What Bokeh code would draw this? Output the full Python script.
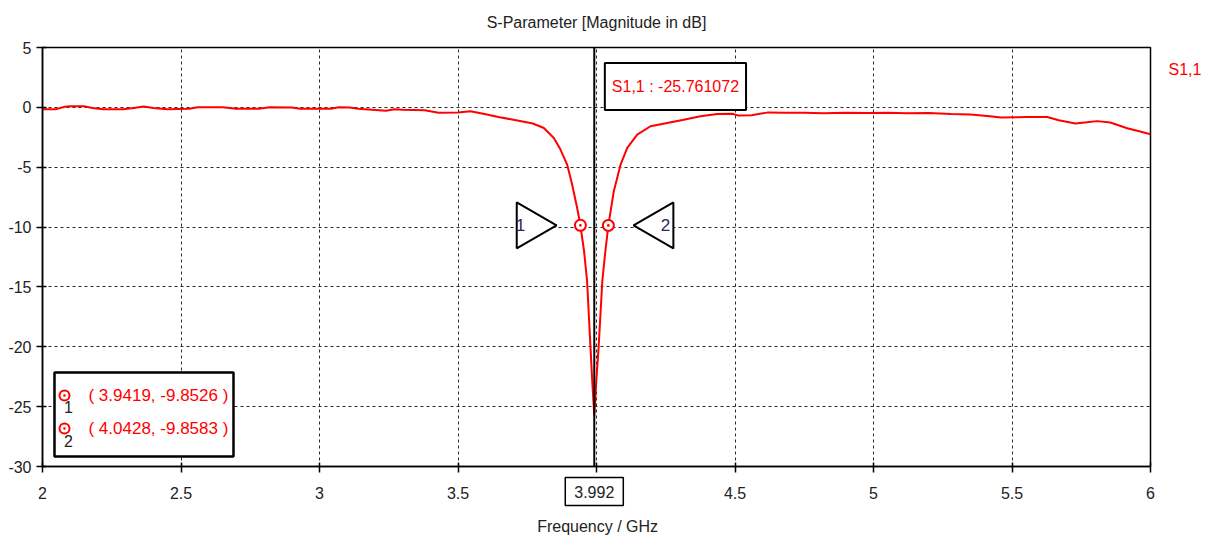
import math
from bokeh.plotting import figure
from bokeh.models import (Range1d, FixedTicker, Label, Span, BoxAnnotation, LinearAxis)
from bokeh.embed import file_html
from bokeh.resources import INLINE

# ---- data ----
freq = [2.00, 2.05, 2.08, 2.10, 2.15, 2.18, 2.22, 2.29, 2.33, 2.365, 2.40, 2.45,
        2.53, 2.56, 2.65, 2.70, 2.78, 2.82, 2.90, 2.93, 3.04, 3.07, 3.11, 3.14,
        3.19, 3.24, 3.27, 3.30, 3.38, 3.43, 3.50, 3.545, 3.60, 3.65, 3.71, 3.77,
        3.81, 3.846, 3.87, 3.894, 3.912, 3.930, 3.9419, 3.955, 3.966, 3.978, 3.984,
        3.992, 4.000, 4.008, 4.021, 4.032, 4.0428, 4.0625, 4.087, 4.111, 4.147,
        4.195, 4.255, 4.315, 4.375, 4.436, 4.49, 4.51, 4.56, 4.62, 4.68, 4.75,
        4.82, 4.90, 4.98, 5.05, 5.12, 5.20, 5.28, 5.35, 5.42, 5.46, 5.555, 5.627,
        5.669, 5.729, 5.77, 5.807, 5.855, 5.916, 5.952, 6.00]
s11_db = [-0.15, -0.15, 0.05, 0.10, 0.10, -0.05, -0.15, -0.15, -0.05, 0.08, -0.05, -0.15,
          -0.12, 0.00, 0.00, -0.12, -0.12, 0.00, -0.02, -0.12, -0.12, 0.00, -0.02, -0.12,
          -0.20, -0.28, -0.15, -0.20, -0.25, -0.45, -0.42, -0.33, -0.58, -0.82, -1.08, -1.35,
          -1.72, -2.56, -3.53, -4.78, -6.44, -8.39, -9.8526, -12.0, -14.5, -19.9, -22.6,
          -25.761072, -22.6, -19.9, -14.5, -12.0, -9.8583, -7.0, -4.78, -3.39, -2.28,
          -1.58, -1.30, -1.03, -0.75, -0.55, -0.53, -0.67, -0.65, -0.42, -0.45, -0.45,
          -0.50, -0.45, -0.48, -0.45, -0.50, -0.48, -0.55, -0.60, -0.75, -0.85, -0.80, -0.80,
          -1.07, -1.35, -1.25, -1.15, -1.27, -1.74, -1.96, -2.24]

marker_freq = [3.9419, 4.0428]
marker_db = [-9.8526, -9.8583]
marker_names = ["1", "2"]
min_freq = 3.992
min_db = -25.761072
series_name = "S1,1"
x_title = "Frequency / GHz"
chart_title = "S-Parameter [Magnitude in dB]"

x_ticks = [2, 2.5, 3, 3.5, 4, 4.5, 5, 5.5, 6]
x_tick_labels = ["2", "2.5", "3", "3.5", "", "4.5", "5", "5.5", "6"]
y_ticks = [5, 0, -5, -10, -15, -20, -25, -30]
y_tick_labels = ["5", "0", "-5", "-10", "-15", "-20", "-25", "-30"]

FONT = "Liberation Sans"
FS = "16px"
TXT = "#222222"

p = figure(width=1215, height=542, x_range=Range1d(2, 6), y_range=Range1d(-30, 5),
           output_backend="svg", toolbar_location=None,
           min_border_left=42, min_border_right=65, min_border_top=47, min_border_bottom=76)
p.background_fill_color = "white"
p.border_fill_color = "white"
p.outline_line_color = "black"
p.outline_line_width = 1.5

p.title.text = chart_title
p.title.align = "center"
p.title.text_font = FONT
p.title.text_font_size = FS
p.title.text_font_style = "normal"
p.title.text_color = TXT
p.title.standoff = 0

for ax, ticks, labels in ((p.xaxis[0], x_ticks, x_tick_labels), (p.yaxis[0], y_ticks, y_tick_labels)):
    ax.ticker = FixedTicker(ticks=ticks)
    ax.major_label_overrides = {float(t): l for t, l in zip(ticks, labels)}
    ax.major_label_text_font = FONT
    ax.major_label_text_font_size = FS
    ax.major_label_text_color = TXT
    ax.axis_line_color = "black"
    ax.axis_line_width = 1.5
    ax.major_tick_line_color = "black"
    ax.major_tick_line_width = 1.5
    ax.minor_tick_line_color = None
    ax.major_tick_in = 4
    ax.major_tick_out = 6
p.xaxis.major_label_standoff = 14
p.yaxis.major_label_standoff = 5

# series name at the right, outside the frame
name_axis = LinearAxis(ticker=FixedTicker(ticks=[3.16]), major_label_overrides={3.16: series_name},
                       axis_line_color=None, major_tick_line_color=None, minor_tick_line_color=None,
                       major_tick_in=0, major_tick_out=0, major_label_standoff=18,
                       major_label_text_font=FONT, major_label_text_font_size=FS,
                       major_label_text_color="#ff0000")
p.add_layout(name_axis, "right")

# x axis title (side-panel label, shifted below the plot)
p.add_layout(Label(x=4.004, y=-479, x_units="data", y_units="screen", text=x_title,
                   text_font=FONT, text_font_size=FS, text_color=TXT,
                   text_align="center", text_baseline="middle"), "above")

# x value box below the axis  (padding = (horizontal, vertical))
p.add_layout(Label(x=min_freq, y=38, x_units="data", y_units="screen",
                   text=f"{min_freq:.3f}", text_font=FONT,
                   text_font_size=FS, text_color=TXT, text_align="center",
                   text_baseline="middle", border_line_color="black", border_line_width=1.5,
                   background_fill_color="white", padding=(9, 8)), "below")

p.xgrid.ticker = FixedTicker(ticks=x_ticks)
p.ygrid.ticker = FixedTicker(ticks=y_ticks)
for g in (p.xgrid[0], p.ygrid[0]):
    g.grid_line_color = "#2a2a2a"
    g.grid_line_dash = "3 3"
    g.grid_line_width = 1

# curve
curve = p.line(freq, s11_db, line_color="#ff0000", line_width=2)

# vertical marker line at minimum
p.add_layout(Span(location=min_freq, dimension="height", line_color="black", line_width=2))

# marker pointers (triangles)
tri_x = [3.760, 4.2296]
p.scatter(x=tri_x, y=marker_db, marker="triangle", size=46,
          angle=[-math.pi / 2, math.pi / 2], fill_color="white",
          line_color="black", line_width=2)
num_x = [3.7256, 4.249]
for nx, ny, nm in zip(num_x, marker_db, marker_names):
    p.add_layout(Label(x=nx, y=ny, text=nm, text_font=FONT, text_font_size="17px",
                       text_color="#1f2a66", text_align="center", text_baseline="middle"))

# markers on the curve
p.scatter(x=marker_freq, y=marker_db, marker="circle_dot", size=11,
          fill_color="white", line_color="#ff0000", line_width=2)

# marker value box at top
p.add_layout(Label(x=4.285, y=1.74, text=f"{series_name} : {min_db:.6f}", text_font=FONT,
                   text_font_size=FS, text_color="#ff0000", text_align="center",
                   text_baseline="middle", border_line_color="black", border_line_width=2,
                   background_fill_color="white", padding=(7, 15)))

# marker table box (bottom left)
p.add_layout(BoxAnnotation(left=2.0433, right=2.6895, bottom=-29.165, top=-22.15,
                           fill_color="white", fill_alpha=1.0,
                           line_color="black", line_alpha=1.0, line_width=2.5))
row_y = [-24.07, -26.83]
tbl = p.scatter(x=[2.0794, 2.0794], y=row_y, marker="circle_dot", size=10,
                fill_color="white", line_color="#ff0000", line_width=2)
tbl.level = "overlay"
for ry, mf, md, nm in zip(row_y, marker_freq, marker_db, marker_names):
    p.add_layout(Label(x=2.166, y=ry, text=f"( {mf:.4f}, {md:.4f} )", text_font=FONT,
                       text_font_size="17px", text_color="#ff0000", text_align="left",
                       text_baseline="middle"))
    p.add_layout(Label(x=2.094, y=ry - 1.0, text=nm, text_font=FONT,
                       text_font_size="16px", text_color=TXT, text_align="center",
                       text_baseline="middle"))

open("out.html", "w").write(file_html(p, INLINE))
